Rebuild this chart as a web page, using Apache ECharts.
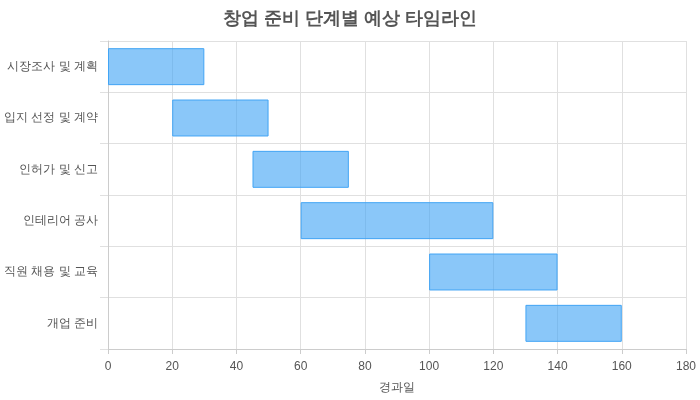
<!DOCTYPE html>
<html>
<head>
<meta charset="utf-8">
<script src="https://cdn.jsdelivr.net/npm/echarts@6/dist/echarts.min.js"></script>
<style>
  html, body { margin: 0; padding: 0; background: #fff; }
  #chart { width: 700px; height: 400px; }
</style>
</head>
<body>
<div id="chart"></div>
<script>
// 단계 이름과 시작/기간 (일)
var phases = ['시장조사 및 계획', '입지 선정 및 계약', '인허가 및 신고', '인테리어 공사', '직원 채용 및 교육', '개업 준비'];
var startDays = [0, 20, 45, 60, 100, 130];
var durations = [30, 30, 30, 60, 40, 30];

var fontFamily = '"Liberation Sans", Arial, sans-serif';

var chart = echarts.init(document.getElementById('chart'));
chart.setOption({
  animation: false,
  textStyle: { fontFamily: fontFamily },
  title: {
    text: '창업 준비 단계별 예상 타임라인',
    left: 'center',
    top: 5,
    textStyle: { fontSize: 18, fontWeight: 'bold', color: '#555', fontFamily: fontFamily }
  },
  grid: { left: 108, right: 14, top: 41, bottom: 51 },
  xAxis: {
    type: 'value',
    min: 0,
    max: 180,
    interval: 20,
    name: '경과일',
    nameLocation: 'middle',
    nameGap: 33,
    nameTextStyle: { color: '#555', fontSize: 12, fontFamily: fontFamily },
    axisLine: { show: true, lineStyle: { color: '#ccc' } },
    axisTick: { show: true, length: 5, lineStyle: { color: '#ccc' } },
    axisLabel: { color: '#555', fontSize: 12, margin: 12, fontFamily: fontFamily },
    splitLine: { show: true, lineStyle: { color: '#e0e0e0' } }
  },
  yAxis: {
    type: 'category',
    inverse: true,
    data: phases,
    axisLine: { show: true, lineStyle: { color: '#ccc' } },
    axisTick: { show: true, length: 8, lineStyle: { color: '#e0e0e0' } },
    axisLabel: { color: '#555', fontSize: 12, margin: 10, fontFamily: fontFamily },
    splitLine: { show: true, lineStyle: { color: '#e0e0e0' } }
  },
  series: [
    {
      type: 'bar',
      stack: 'gantt',
      data: startDays,
      barWidth: '72%',
      itemStyle: { color: 'transparent' },
      silent: true
    },
    {
      type: 'bar',
      stack: 'gantt',
      data: durations,
      barWidth: '72%',
      itemStyle: {
        color: 'rgba(66, 165, 245, 0.62)',
        borderColor: '#42A5F5',
        borderWidth: 1
      }
    }
  ]
});
</script>
</body>
</html>
